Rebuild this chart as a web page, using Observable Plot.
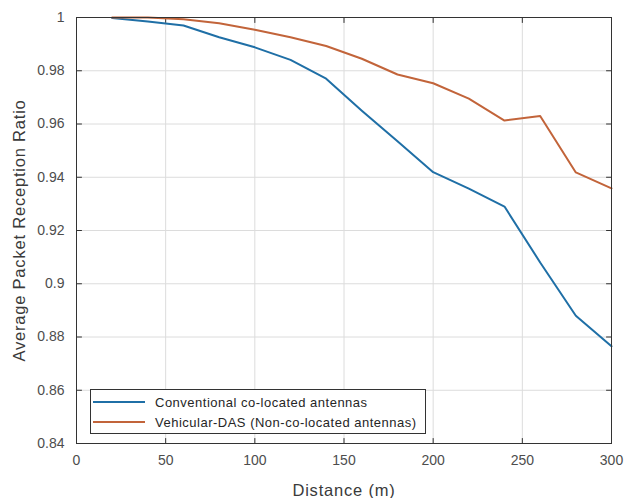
<!DOCTYPE html>
<html>
<head>
<meta charset="utf-8">
<script src="https://cdn.jsdelivr.net/npm/d3@7"></script>
<script src="https://cdn.jsdelivr.net/npm/@observablehq/plot@0.6"></script>
<style>
  html, body { margin: 0; padding: 0; background: #fff; }
  #wrap { position: relative; width: 624px; height: 498px; font-family: "Liberation Sans", Arial, sans-serif; }
  #legend { position: absolute; left: 90px; top: 389px; width: 336px; height: 45px; border: 1px solid #333; background: #fff; box-sizing: border-box; font-size: 13px; letter-spacing: 0.5px; color: #262626; }
  .item { position: absolute; left: 2px; height: 16px; display: flex; align-items: center; white-space: nowrap; }
  .item svg { margin-right: 10px; }
</style>
</head>
<body>
<div id="wrap"></div>
<script>
const distance = [20, 40, 60, 80, 100, 120, 140, 160, 180, 200, 220, 240, 260, 280, 300];
const conventional = [0.9998, 0.9985, 0.9970, 0.9926, 0.9888, 0.9841, 0.9770, 0.9650, 0.9535, 0.9419, 0.9357, 0.9290, 0.9080, 0.8880, 0.8765];
const vehicularDAS = [1.0000, 1.0000, 0.9993, 0.9978, 0.9954, 0.9926, 0.9893, 0.9845, 0.9786, 0.9753, 0.9695, 0.9613, 0.9630, 0.9418, 0.9358];
const seriesNames = ["Conventional co-located antennas", "Vehicular-DAS (Non-co-located antennas)"];
const seriesColors = ["#1f6fa6", "#c2643a"];
const xTicks = [0, 50, 100, 150, 200, 250, 300];
const yTicks = [0.84, 0.86, 0.88, 0.9, 0.92, 0.94, 0.96, 0.98, 1];

const rows = [];
distance.forEach((d, i) => {
  rows.push({x: d, y: conventional[i], s: seriesNames[0]});
  rows.push({x: d, y: vehicularDAS[i], s: seriesNames[1]});
});

const fmtY = v => (v === 1 ? "1" : String(+v.toFixed(2)));
const tickShape = {draw(ctx, l) { ctx.moveTo(0, 0); ctx.lineTo(0, -l); }};
const xMin = 0, xMax = 300, yMin = 0.84, yMax = 1;

const chart = Plot.plot({
  width: 624,
  height: 498,
  marginLeft: 76,
  marginRight: 13,
  marginTop: 17,
  marginBottom: 55,
  style: {fontFamily: "'Liberation Sans', Arial, sans-serif", fontSize: "14px", color: "#4d4d4d", background: "#fff"},
  x: {domain: [xMin, xMax], ticks: xTicks},
  y: {domain: [yMin, yMax], ticks: yTicks},
  color: {domain: seriesNames, range: seriesColors},
  marks: [
    Plot.gridX(xTicks, {stroke: "#dcdcdc", strokeOpacity: 1}),
    Plot.gridY(yTicks, {stroke: "#dcdcdc", strokeOpacity: 1}),
    Plot.axisX(xTicks, {anchor: "bottom", tickSize: 0, tickPadding: 12, tickFormat: d => String(d), label: "Distance (m)", labelAnchor: "center", labelArrow: "none", labelOffset: 52, fontSize: 14}),
    Plot.axisY(yTicks, {anchor: "left", tickSize: 0, tickPadding: 12, tickFormat: fmtY, label: "Average Packet Reception Ratio", labelAnchor: "center", labelArrow: "none", labelOffset: 63, fontSize: 14}),
    Plot.vector(xTicks, {x: d => d, y: yMin, length: 5, rotate: 0, anchor: "start", shape: tickShape, stroke: "#333", strokeWidth: 1}),
    Plot.vector(xTicks, {x: d => d, y: yMax, length: 5, rotate: 180, anchor: "start", shape: tickShape, stroke: "#333", strokeWidth: 1}),
    Plot.vector(yTicks, {x: xMin, y: d => d, length: 5, rotate: 90, anchor: "start", shape: tickShape, stroke: "#333", strokeWidth: 1}),
    Plot.vector(yTicks, {x: xMax, y: d => d, length: 5, rotate: -90, anchor: "start", shape: tickShape, stroke: "#333", strokeWidth: 1}),
    Plot.line(rows, {x: "x", y: "y", z: "s", stroke: "s", strokeWidth: 2}),
    Plot.frame({stroke: "#333", strokeWidth: 1})
  ]
});

const wrap = document.getElementById("wrap");
wrap.appendChild(chart);
chart.querySelectorAll("[aria-label='y-axis label'] text, [aria-label='x-axis label'] text").forEach(t => {
  t.style.fontSize = "16.5px";
  t.style.letterSpacing = "0.8px";
  t.setAttribute("fill", "#3a3a3a");
});

const legend = document.createElement("div");
legend.id = "legend";
seriesNames.forEach((name, i) => {
  const it = document.createElement("div");
  it.className = "item";
  it.style.top = (4 + i * 20) + "px";
  it.innerHTML = `<svg width="52" height="4"><line x1="0" x2="52" y1="2" y2="2" stroke="${seriesColors[i]}" stroke-width="2"/></svg><span>${name}</span>`;
  legend.appendChild(it);
});
wrap.appendChild(legend);
</script>
</body>
</html>
